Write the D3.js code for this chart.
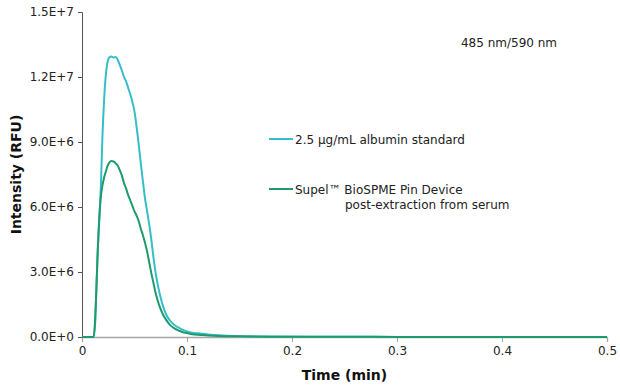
<!DOCTYPE html>
<html>
<head>
<meta charset="utf-8">
<script src="https://cdn.jsdelivr.net/npm/d3@7"></script>
<style>
  html, body { margin: 0; padding: 0; background: #fff; }
  svg { display: block; font-family: "DejaVu Sans", Verdana, sans-serif; }
</style>
</head>
<body>
<div id="chart"></div>
<script>
// Time (min)
const times = [0, 0.011, 0.0125, 0.0135, 0.015, 0.0165, 0.018, 0.0195, 0.021, 0.0225, 0.024, 0.026, 0.028, 0.030, 0.032, 0.034, 0.036, 0.038, 0.040, 0.042, 0.044, 0.046, 0.048, 0.050, 0.052, 0.054, 0.056, 0.058, 0.060, 0.062, 0.064, 0.066, 0.068, 0.070, 0.072, 0.074, 0.077, 0.080, 0.084, 0.088, 0.092, 0.096, 0.100, 0.105, 0.110, 0.120, 0.130, 0.150, 0.180, 0.220, 0.300, 0.400, 0.500];
// Intensity (RFU), in units of 1e6
const standardValues = [0, 0, 0.6, 2.0, 4.0, 5.5, 7.0, 9.3, 10.9, 12.0, 12.6, 12.9, 12.95, 12.9, 12.92, 12.8, 12.55, 12.3, 12.0, 11.8, 11.5, 11.2, 10.85, 10.4, 9.7, 8.9, 8.0, 7.2, 6.4, 5.8, 5.2, 4.5, 3.7, 3.0, 2.45, 2.0, 1.45, 1.05, 0.75, 0.55, 0.43, 0.33, 0.26, 0.2, 0.17, 0.12, 0.08, 0.04, 0.02, 0.01, 0.005, 0, 0];
const deviceValues = [0, 0, 0.8, 1.9, 4.0, 5.5, 6.5, 7.0, 7.35, 7.6, 7.85, 8.05, 8.12, 8.1, 8.02, 7.92, 7.7, 7.45, 7.1, 6.85, 6.55, 6.3, 6.05, 5.8, 5.6, 5.35, 5.0, 4.7, 4.35, 3.95, 3.45, 2.95, 2.5, 2.05, 1.7, 1.4, 1.05, 0.8, 0.55, 0.4, 0.3, 0.22, 0.18, 0.13, 0.1, 0.07, 0.05, 0.03, 0.015, 0.01, 0.005, 0, 0];
const seriesNames = ["2.5 µg/mL albumin standard", "Supel™ BioSPME Pin Device", "post-extraction from serum"];
const seriesColors = ["#35bec9", "#1f9a6d"];
const yTickValues = [0, 3e6, 6e6, 9e6, 12e6, 15e6];
const yTickLabels = ["0.0E+0", "3.0E+6", "6.0E+6", "9.0E+6", "1.2E+7", "1.5E+7"];
const xTickValues = [0, 0.1, 0.2, 0.3, 0.4, 0.5];
const xTickLabels = ["0", "0.1", "0.2", "0.3", "0.4", "0.5"];
const annotation = "485 nm/590 nm";

const W = 620, H = 390;
const margin = {left: 82, right: 13, top: 12, bottom: 53};
const FS = 12;

const svg = d3.select("#chart").append("svg").attr("width", W).attr("height", H);

const x = d3.scaleLinear().domain([0, 0.5]).range([margin.left, W - margin.right]);
const y = d3.scaleLinear().domain([0, 15e6]).range([H - margin.bottom, margin.top]);

// X axis
const xAxis = svg.append("g")
  .attr("transform", `translate(0,${H - margin.bottom})`)
  .call(d3.axisBottom(x).tickValues(xTickValues).tickSize(5).tickPadding(4)
    .tickFormat((d, i) => xTickLabels[i]));
xAxis.select(".domain").attr("stroke", "#a6a6a6").attr("stroke-width", 1.3);
xAxis.selectAll(".tick line").attr("stroke", "#a6a6a6");
xAxis.selectAll("text").attr("font-size", FS).attr("fill", "#222")
  .attr("font-family", "DejaVu Sans, Verdana, sans-serif");

// Y axis
const yAxis = svg.append("g")
  .attr("transform", `translate(${margin.left},0)`)
  .call(d3.axisLeft(y).tickValues(yTickValues).tickSize(4).tickPadding(4)
    .tickFormat((d, i) => yTickLabels[i]));
yAxis.select(".domain").attr("stroke", "#555").attr("stroke-width", 1);
yAxis.selectAll(".tick line").attr("stroke", "#555");
yAxis.selectAll("text").attr("font-size", FS).attr("fill", "#222")
  .attr("font-family", "DejaVu Sans, Verdana, sans-serif");

// Lines
const line = d3.line()
  .x((d, i) => x(times[i]))
  .y(d => y(d * 1e6))
  .curve(d3.curveMonotoneX);

svg.append("path").datum(standardValues)
  .attr("d", line).attr("fill", "none")
  .attr("stroke", seriesColors[0]).attr("stroke-width", 2);
svg.append("path").datum(deviceValues)
  .attr("d", line).attr("fill", "none")
  .attr("stroke", seriesColors[1]).attr("stroke-width", 2);

// Axis titles
svg.append("text")
  .attr("x", (margin.left + W - margin.right) / 2)
  .attr("y", 380)
  .attr("text-anchor", "middle")
  .attr("font-size", 14).attr("font-weight", "bold").attr("fill", "#111")
  .text("Time (min)");
svg.append("text")
  .attr("transform", `translate(21,${(margin.top + H - margin.bottom) / 2}) rotate(-90)`)
  .attr("text-anchor", "middle")
  .attr("font-size", 14).attr("font-weight", "bold").attr("fill", "#111")
  .text("Intensity (RFU)");

// Annotation
svg.append("text")
  .attr("x", 509).attr("y", 47)
  .attr("text-anchor", "middle")
  .attr("font-size", FS).attr("fill", "#222")
  .text(annotation);

// Legend
const legend = svg.append("g");
legend.append("line").attr("x1", 269).attr("x2", 293).attr("y1", 139).attr("y2", 139)
  .attr("stroke", seriesColors[0]).attr("stroke-width", 2);
legend.append("text").attr("x", 295).attr("y", 143.5)
  .attr("font-size", FS).attr("fill", "#222").text(seriesNames[0]);
legend.append("line").attr("x1", 269).attr("x2", 293).attr("y1", 189).attr("y2", 189)
  .attr("stroke", seriesColors[1]).attr("stroke-width", 2);
legend.append("text").attr("x", 295).attr("y", 193.5)
  .attr("font-size", FS).attr("fill", "#222").text(seriesNames[1]);
legend.append("text").attr("x", 345).attr("y", 208.5)
  .attr("font-size", FS).attr("fill", "#222").text(seriesNames[2]);
</script>
</body>
</html>
